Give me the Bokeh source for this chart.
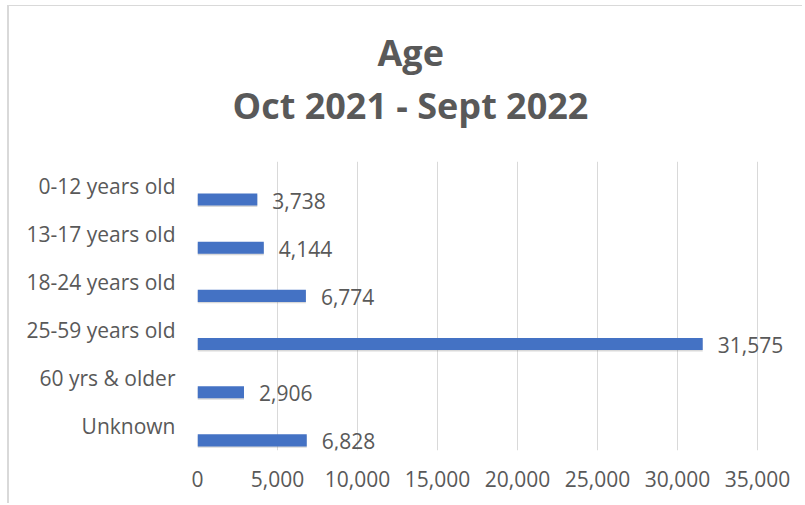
from bokeh.plotting import figure
from bokeh.models import ColumnDataSource, FactorRange, Range1d, LabelSet, Title, FixedTicker, NumeralTickFormatter
from bokeh.transform import dodge
from bokeh.embed import file_html
from bokeh.resources import INLINE
from bokeh.core.properties import value

categories = ["0-12 years old", "13-17 years old", "18-24 years old",
              "25-59 years old", "60 yrs & older", "Unknown"]
counts = [3738, 4144, 6774, 31575, 2906, 6828]
x_ticks = [0, 5000, 10000, 15000, 20000, 25000, 30000, 35000]
title_lines = ["Age", "Oct 2021 - Sept 2022"]

GRAY = "#595959"
FONT = "Open Sans"

src = ColumnDataSource(dict(
    cat=categories,
    val=counts,
    lab=[f"{v:,}" for v in counts],
))

p = figure(
    width=795, height=498, title=None,
    y_range=FactorRange(factors=list(reversed(categories))),
    x_range=Range1d(0, 37687.5),
    output_backend="svg", toolbar_location=None,
    min_border_left=188, min_border_right=4,
    min_border_top=155, min_border_bottom=54,
)
p.margin = (5, 0, 0, 7)
p.styles = {"border-left": "2px solid #d9d9d9", "border-top": "1px solid #d9d9d9"}
p.outline_line_color = None
p.background_fill_color = "white"
p.border_fill_color = "white"

# soft shadow under the bars
p.hbar(y=dodge("cat", -0.32, range=p.y_range), right="val", left=0, height=0.25,
       source=src, fill_color="#808080", fill_alpha=0.30, line_color=None)
p.hbar(y=dodge("cat", -0.29, range=p.y_range), right="val", left=0, height=0.25,
       source=src, fill_color="#4472C4", line_color=None)

labels = LabelSet(x="val", y=dodge("cat", -0.29, range=p.y_range), text="lab", source=src,
                  x_offset=15, y_offset=-1, text_baseline="middle", text_align="left",
                  text_font=value(FONT), text_font_size="21px", text_color=GRAY)
p.add_layout(labels)

p.xaxis.ticker = FixedTicker(ticks=x_ticks)
p.xaxis.formatter = NumeralTickFormatter(format="0,0")
p.xaxis.axis_line_color = None
p.xaxis.major_tick_line_color = None
p.xaxis.minor_tick_line_color = None
p.xaxis.major_label_standoff = 14
p.xaxis.major_label_text_font = FONT
p.xaxis.major_label_text_font_size = "21px"
p.xaxis.major_label_text_color = GRAY

p.yaxis.axis_line_color = None
p.yaxis.major_tick_line_color = None
p.yaxis.minor_tick_line_color = None
p.yaxis.major_label_standoff = 16
p.yaxis.major_label_text_font = FONT
p.yaxis.major_label_text_font_size = "21px"
p.yaxis.major_label_text_color = GRAY

p.ygrid.grid_line_color = None
p.xgrid.grid_line_color = "#d9d9d9"
p.xgrid.grid_line_width = 1

spacer = Title(text=" ", standoff=28, text_font=FONT, text_font_size="1px", text_color="white")
t2 = Title(text=title_lines[1], align="left", offset=35, standoff=2,
           text_font=FONT, text_font_style="bold", text_font_size="36px", text_color=GRAY)
t1 = Title(text=title_lines[0], align="left", offset=180, standoff=2,
           text_font=FONT, text_font_style="bold", text_font_size="36px", text_color=GRAY)
p.add_layout(spacer, "above")
p.add_layout(t2, "above")
p.add_layout(t1, "above")

open("out.html", "w").write(file_html(p, INLINE))
